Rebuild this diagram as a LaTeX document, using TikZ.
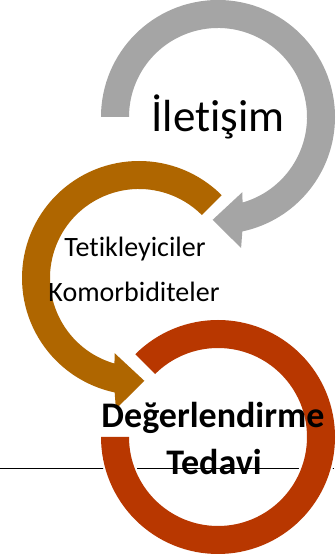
\documentclass[tikz,border=0pt]{standalone}
\usepackage{fontspec}
\setmainfont{Carlito}[Ligatures={NoCommon}]
\usetikzlibrary{calc}
\definecolor{cgray}{RGB}{165,165,165}
\definecolor{cbrown}{RGB}{175,102,0}
\definecolor{cred}{RGB}{184,55,0}
\begin{document}
\begin{tikzpicture}[x=1pt,y=1pt,
  ring/.style={preaction={draw=white,line width=4pt,line join=miter}},
  lbl/.style={inner sep=0pt,anchor=base,text=black}]
\useasboundingbox (0,0) rectangle (335,560);
% centres
\coordinate (cg) at (218,443);
\coordinate (cb) at (139,282);
\coordinate (cr) at (218,123);
% rule line behind the red ring
\coordinate (la) at (0,92);
\coordinate (lb) at (334,92);
\draw[line width=0.8pt,black] (la) -- (lb);
% gray arrow
\fill[cgray,ring] ($(cg)+(180:117)$) arc[start angle=180,end angle=-78,radius=117]
  -- ($(cg)+(-80:133)$) -- ($(cg)+(-93:103)$) -- ($(cg)+(-72:79)$)
  -- ($(cg)+(-74:89)$) arc[start angle=-74,end angle=180,radius=89] -- cycle;
% brown arrow
\fill[cbrown,ring] ($(cb)+(45:117)$) arc[start angle=45,end angle=258,radius=117]
  -- ($(cb)+(260:133)$) -- ($(cb)+(273:103)$) -- ($(cb)+(252:79)$)
  -- ($(cb)+(254:89)$) arc[start angle=254,end angle=45,radius=89] -- cycle;
% red ring
\fill[cred,ring] ($(cr)+(135:117)$) arc[start angle=135,end angle=-180,radius=117]
  -- ($(cr)+(180:89)$) arc[start angle=-180,end angle=135,radius=89] -- cycle;
% texts
\node[lbl,font=\fontsize{45}{54}\selectfont] (t1) at (218,428) {İletişim};
\node[lbl,font=\fontsize{28}{34}\selectfont] (t2) at (135,303) {Tetikleyiciler};
\node[lbl,font=\fontsize{28}{34}\selectfont] (t3) at (134,258) {Komorbiditeler};
\node[lbl,font=\fontsize{36}{44}\selectfont\bfseries] (t4) at (213,132) {Değerlendirme};
\node[lbl,font=\fontsize{36}{44}\selectfont\bfseries] (t5) at (214,85) {Tedavi};
\end{tikzpicture}
\end{document}
